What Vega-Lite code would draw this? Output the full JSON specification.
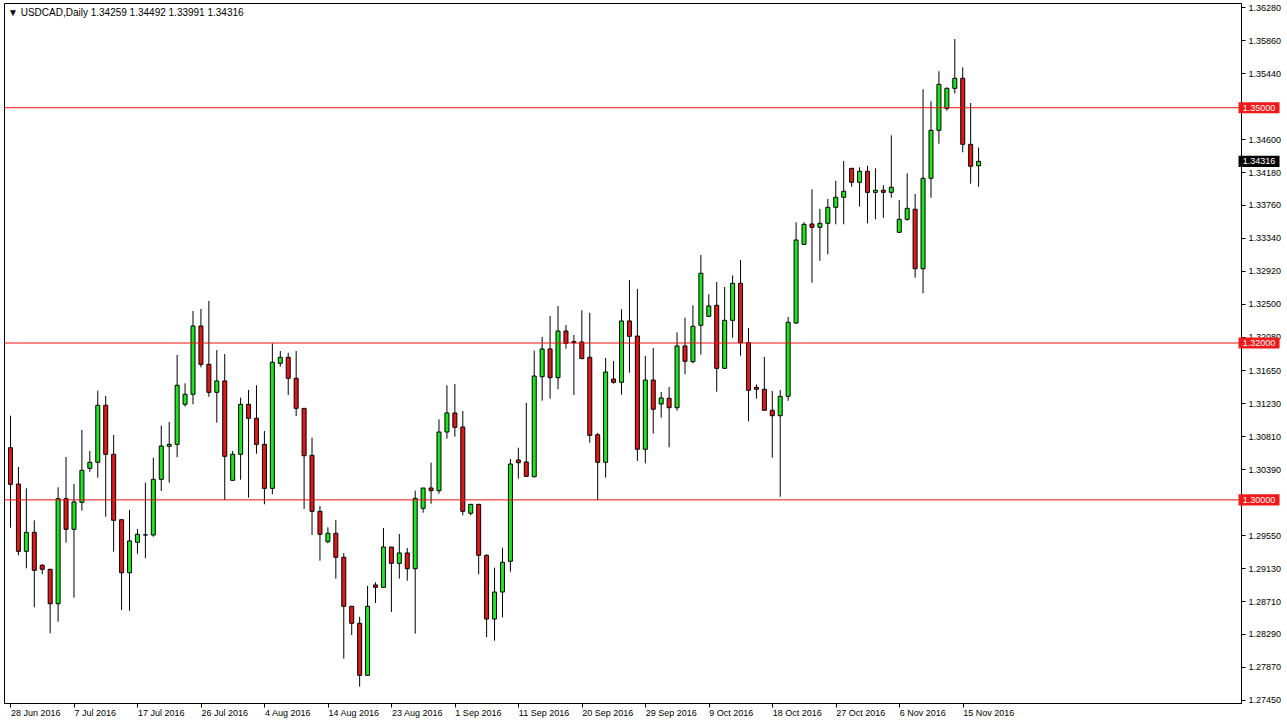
{
"$schema":"https://vega.github.io/schema/vega-lite/v6.json",
"width":1237,"height":700,
"autosize":{"type":"none"},
"padding":{"left":4,"top":3,"right":46,"bottom":23},
"background":"white",
"title":{"text":"▼ USDCAD,Daily  1.34259 1.34492 1.33991 1.34316","anchor":"start","frame":"group","font":"Liberation Sans","fontSize":10,"fontWeight":"normal","color":"black","baseline":"top","offset":-15,"dx":4},
"config":{"view":{"stroke":"black","strokeWidth":1},"axis":{"grid":false,"domainColor":"black","tickColor":"black","labelColor":"black","labelFont":"Liberation Sans","labelFontSize":9,"tickSize":4,"title":null,"labelOverlap":false,"labelFlush":false}},
"data":{"values":[
{"i":0,"d":"2016-06-28","o":1.30665,"h":1.31073,"l":1.29645,"c":1.30198},
{"i":1,"d":"2016-06-29","o":1.30202,"h":1.30419,"l":1.29293,"c":1.29344},
{"i":2,"d":"2016-06-30","o":1.29344,"h":1.30147,"l":1.29127,"c":1.29586},
{"i":3,"d":"2016-07-01","o":1.29586,"h":1.29739,"l":1.2863,"c":1.29102},
{"i":4,"d":"2016-07-03","o":1.29166,"h":1.29182,"l":1.29051,"c":1.29115},
{"i":5,"d":"2016-07-04","o":1.29115,"h":1.29115,"l":1.28299,"c":1.28676},
{"i":6,"d":"2016-07-05","o":1.28676,"h":1.3016,"l":1.28447,"c":1.30015},
{"i":7,"d":"2016-07-06","o":1.30015,"h":1.30547,"l":1.29454,"c":1.29625},
{"i":8,"d":"2016-07-07","o":1.29625,"h":1.30202,"l":1.28753,"c":1.29973},
{"i":9,"d":"2016-07-08","o":1.29969,"h":1.30891,"l":1.29862,"c":1.30377},
{"i":10,"d":"2016-07-10","o":1.30402,"h":1.30623,"l":1.30359,"c":1.30479},
{"i":11,"d":"2016-07-11","o":1.30479,"h":1.31392,"l":1.30283,"c":1.31206},
{"i":12,"d":"2016-07-12","o":1.31206,"h":1.31324,"l":1.29785,"c":1.30581},
{"i":13,"d":"2016-07-13","o":1.30581,"h":1.30827,"l":1.29339,"c":1.29739},
{"i":14,"d":"2016-07-14","o":1.29747,"h":1.29747,"l":1.28596,"c":1.29071},
{"i":15,"d":"2016-07-15","o":1.29071,"h":1.29871,"l":1.28587,"c":1.29476},
{"i":16,"d":"2016-07-17","o":1.29459,"h":1.29629,"l":1.29314,"c":1.29561},
{"i":17,"d":"2016-07-18","o":1.29552,"h":1.30219,"l":1.29255,"c":1.29554},
{"i":18,"d":"2016-07-19","o":1.29552,"h":1.30538,"l":1.2953,"c":1.30262},
{"i":19,"d":"2016-07-20","o":1.30262,"h":1.30946,"l":1.30113,"c":1.30687},
{"i":20,"d":"2016-07-21","o":1.30683,"h":1.30993,"l":1.30219,"c":1.30708},
{"i":21,"d":"2016-07-22","o":1.30708,"h":1.31847,"l":1.30543,"c":1.31461},
{"i":22,"d":"2016-07-24","o":1.31218,"h":1.31486,"l":1.31188,"c":1.31346},
{"i":23,"d":"2016-07-25","o":1.31346,"h":1.32408,"l":1.31218,"c":1.32217},
{"i":24,"d":"2016-07-26","o":1.32217,"h":1.32434,"l":1.3169,"c":1.31728},
{"i":25,"d":"2016-07-27","o":1.31728,"h":1.32536,"l":1.31315,"c":1.31371},
{"i":26,"d":"2016-07-28","o":1.31371,"h":1.31911,"l":1.30984,"c":1.31516},
{"i":27,"d":"2016-07-29","o":1.31516,"h":1.3186,"l":1.29998,"c":1.30555},
{"i":28,"d":"2016-07-31","o":1.30249,"h":1.30623,"l":1.30249,"c":1.30581},
{"i":29,"d":"2016-08-01","o":1.30581,"h":1.31303,"l":1.30257,"c":1.31218},
{"i":30,"d":"2016-08-02","o":1.31218,"h":1.31401,"l":1.30028,"c":1.3104},
{"i":31,"d":"2016-08-03","o":1.3104,"h":1.31461,"l":1.30589,"c":1.30708},
{"i":32,"d":"2016-08-04","o":1.30708,"h":1.30878,"l":1.29943,"c":1.30147},
{"i":33,"d":"2016-08-05","o":1.30147,"h":1.31996,"l":1.30071,"c":1.31754},
{"i":34,"d":"2016-08-07","o":1.31741,"h":1.31898,"l":1.31698,"c":1.31818},
{"i":35,"d":"2016-08-08","o":1.31818,"h":1.31876,"l":1.31337,"c":1.3155},
{"i":36,"d":"2016-08-09","o":1.3155,"h":1.31898,"l":1.31069,"c":1.31167},
{"i":37,"d":"2016-08-10","o":1.31167,"h":1.31167,"l":1.29884,"c":1.30563},
{"i":38,"d":"2016-08-11","o":1.30568,"h":1.30793,"l":1.29552,"c":1.29854},
{"i":39,"d":"2016-08-12","o":1.29854,"h":1.29922,"l":1.29224,"c":1.29561},
{"i":40,"d":"2016-08-14","o":1.29467,"h":1.2965,"l":1.29446,"c":1.29574},
{"i":41,"d":"2016-08-15","o":1.29574,"h":1.29743,"l":1.28995,"c":1.29268},
{"i":42,"d":"2016-08-16","o":1.29268,"h":1.29323,"l":1.27975,"c":1.28643},
{"i":43,"d":"2016-08-17","o":1.28643,"h":1.28643,"l":1.28277,"c":1.28426},
{"i":44,"d":"2016-08-18","o":1.28426,"h":1.2851,"l":1.27618,"c":1.27763},
{"i":45,"d":"2016-08-19","o":1.27763,"h":1.28902,"l":1.27754,"c":1.28643},
{"i":46,"d":"2016-08-21","o":1.28915,"h":1.28949,"l":1.28685,"c":1.28885},
{"i":47,"d":"2016-08-22","o":1.28885,"h":1.29641,"l":1.28885,"c":1.29399},
{"i":48,"d":"2016-08-23","o":1.29399,"h":1.29399,"l":1.2857,"c":1.29191},
{"i":49,"d":"2016-08-24","o":1.29191,"h":1.29565,"l":1.28995,"c":1.29323},
{"i":50,"d":"2016-08-25","o":1.29323,"h":1.29386,"l":1.28969,"c":1.29122},
{"i":51,"d":"2016-08-26","o":1.29122,"h":1.30117,"l":1.28294,"c":1.3002},
{"i":52,"d":"2016-08-28","o":1.29892,"h":1.30151,"l":1.29836,"c":1.30151},
{"i":53,"d":"2016-08-29","o":1.30151,"h":1.30474,"l":1.29951,"c":1.30117},
{"i":54,"d":"2016-08-30","o":1.30117,"h":1.31027,"l":1.30079,"c":1.30865},
{"i":55,"d":"2016-08-31","o":1.30865,"h":1.31461,"l":1.3078,"c":1.31108},
{"i":56,"d":"2016-09-01","o":1.31108,"h":1.31477,"l":1.30805,"c":1.30925},
{"i":57,"d":"2016-09-02","o":1.30929,"h":1.31133,"l":1.29803,"c":1.29854},
{"i":58,"d":"2016-09-04","o":1.29829,"h":1.29943,"l":1.29803,"c":1.29943},
{"i":59,"d":"2016-09-05","o":1.29943,"h":1.29943,"l":1.29051,"c":1.29293},
{"i":60,"d":"2016-09-06","o":1.29293,"h":1.29306,"l":1.28248,"c":1.28481},
{"i":61,"d":"2016-09-07","o":1.28481,"h":1.29135,"l":1.28204,"c":1.28825},
{"i":62,"d":"2016-09-08","o":1.28825,"h":1.2939,"l":1.28503,"c":1.29204},
{"i":63,"d":"2016-09-09","o":1.29217,"h":1.30521,"l":1.29084,"c":1.30457},
{"i":64,"d":"2016-09-11","o":1.30508,"h":1.30665,"l":1.3027,"c":1.30474},
{"i":65,"d":"2016-09-12","o":1.30483,"h":1.31235,"l":1.303,"c":1.303},
{"i":66,"d":"2016-09-13","o":1.30295,"h":1.31902,"l":1.30288,"c":1.31579},
{"i":67,"d":"2016-09-14","o":1.3157,"h":1.32077,"l":1.31264,"c":1.31924},
{"i":68,"d":"2016-09-15","o":1.31924,"h":1.32344,"l":1.3129,"c":1.31558},
{"i":69,"d":"2016-09-16","o":1.31558,"h":1.32472,"l":1.3141,"c":1.32153},
{"i":70,"d":"2016-09-18","o":1.32153,"h":1.3223,"l":1.31927,"c":1.31996},
{"i":71,"d":"2016-09-19","o":1.32017,"h":1.32102,"l":1.31337,"c":1.32004},
{"i":72,"d":"2016-09-20","o":1.32013,"h":1.32417,"l":1.318,"c":1.318},
{"i":73,"d":"2016-09-21","o":1.31818,"h":1.32386,"l":1.30729,"c":1.30823},
{"i":74,"d":"2016-09-22","o":1.30831,"h":1.30853,"l":1.29998,"c":1.30479},
{"i":75,"d":"2016-09-23","o":1.30479,"h":1.31809,"l":1.30283,"c":1.3163},
{"i":76,"d":"2016-09-25","o":1.31541,"h":1.31771,"l":1.31481,"c":1.31499},
{"i":77,"d":"2016-09-26","o":1.31499,"h":1.3243,"l":1.31341,"c":1.32281},
{"i":78,"d":"2016-09-27","o":1.32281,"h":1.32803,"l":1.31621,"c":1.32085},
{"i":79,"d":"2016-09-28","o":1.32089,"h":1.32689,"l":1.30496,"c":1.30645},
{"i":80,"d":"2016-09-29","o":1.30645,"h":1.31834,"l":1.30466,"c":1.31528},
{"i":81,"d":"2016-09-30","o":1.31528,"h":1.31936,"l":1.30844,"c":1.31155},
{"i":82,"d":"2016-10-02","o":1.31222,"h":1.31375,"l":1.31048,"c":1.31299},
{"i":83,"d":"2016-10-03","o":1.31295,"h":1.31439,"l":1.3067,"c":1.31175},
{"i":84,"d":"2016-10-04","o":1.31175,"h":1.32136,"l":1.31137,"c":1.31962},
{"i":85,"d":"2016-10-05","o":1.31962,"h":1.32323,"l":1.31601,"c":1.31767},
{"i":86,"d":"2016-10-06","o":1.31762,"h":1.32481,"l":1.31741,"c":1.32213},
{"i":87,"d":"2016-10-07","o":1.32226,"h":1.33122,"l":1.31851,"c":1.32889},
{"i":88,"d":"2016-10-09","o":1.3234,"h":1.32621,"l":1.3234,"c":1.32472},
{"i":89,"d":"2016-10-10","o":1.32481,"h":1.32778,"l":1.31379,"c":1.31677},
{"i":90,"d":"2016-10-11","o":1.31677,"h":1.32714,"l":1.31677,"c":1.32289},
{"i":91,"d":"2016-10-12","o":1.32289,"h":1.32863,"l":1.32068,"c":1.32761},
{"i":92,"d":"2016-10-13","o":1.32761,"h":1.33058,"l":1.31838,"c":1.32004},
{"i":93,"d":"2016-10-14","o":1.32004,"h":1.32191,"l":1.31002,"c":1.31397},
{"i":94,"d":"2016-10-16","o":1.31435,"h":1.31473,"l":1.3129,"c":1.3141},
{"i":95,"d":"2016-10-17","o":1.3141,"h":1.31822,"l":1.31142,"c":1.31142},
{"i":96,"d":"2016-10-18","o":1.31142,"h":1.31388,"l":1.30538,"c":1.31073},
{"i":97,"d":"2016-10-19","o":1.31073,"h":1.31401,"l":1.3004,"c":1.3132},
{"i":98,"d":"2016-10-20","o":1.3132,"h":1.32332,"l":1.31264,"c":1.32264},
{"i":99,"d":"2016-10-21","o":1.32255,"h":1.33539,"l":1.32246,"c":1.33313},
{"i":100,"d":"2016-10-23","o":1.33258,"h":1.33539,"l":1.33258,"c":1.33513},
{"i":101,"d":"2016-10-24","o":1.33517,"h":1.3396,"l":1.32769,"c":1.33475},
{"i":102,"d":"2016-10-25","o":1.33475,"h":1.33709,"l":1.33049,"c":1.33526},
{"i":103,"d":"2016-10-26","o":1.33526,"h":1.33836,"l":1.33131,"c":1.3373},
{"i":104,"d":"2016-10-27","o":1.3373,"h":1.34069,"l":1.33513,"c":1.33858},
{"i":105,"d":"2016-10-28","o":1.33858,"h":1.34321,"l":1.33513,"c":1.33934},
{"i":106,"d":"2016-10-30","o":1.34227,"h":1.34227,"l":1.33993,"c":1.34049},
{"i":107,"d":"2016-10-31","o":1.34049,"h":1.3424,"l":1.33738,"c":1.34189},
{"i":108,"d":"2016-11-01","o":1.34189,"h":1.34261,"l":1.33526,"c":1.33921},
{"i":109,"d":"2016-11-02","o":1.33921,"h":1.34227,"l":1.33577,"c":1.33947},
{"i":110,"d":"2016-11-03","o":1.33947,"h":1.34011,"l":1.33598,"c":1.33921},
{"i":111,"d":"2016-11-04","o":1.33921,"h":1.34648,"l":1.33853,"c":1.33985},
{"i":112,"d":"2016-11-06","o":1.33411,"h":1.33823,"l":1.33411,"c":1.33577},
{"i":113,"d":"2016-11-07","o":1.33577,"h":1.34164,"l":1.33559,"c":1.33717},
{"i":114,"d":"2016-11-08","o":1.33705,"h":1.339,"l":1.32833,"c":1.32947},
{"i":115,"d":"2016-11-09","o":1.32947,"h":1.35235,"l":1.32634,"c":1.341},
{"i":116,"d":"2016-11-10","o":1.341,"h":1.35082,"l":1.33853,"c":1.34712},
{"i":117,"d":"2016-11-11","o":1.34712,"h":1.35464,"l":1.34541,"c":1.35298},
{"i":118,"d":"2016-11-13","o":1.34992,"h":1.3526,"l":1.34962,"c":1.35247},
{"i":119,"d":"2016-11-14","o":1.35247,"h":1.35876,"l":1.35184,"c":1.35375},
{"i":120,"d":"2016-11-15","o":1.35375,"h":1.35515,"l":1.34431,"c":1.34533},
{"i":121,"d":"2016-11-16","o":1.34533,"h":1.3506,"l":1.34031,"c":1.34253},
{"i":122,"d":"2016-11-17","o":1.34259,"h":1.34492,"l":1.33991,"c":1.34316}
]},
"layer":[
{"mark":{"type":"rule","color":"black","strokeWidth":1,"clip":true},
 "encoding":{
  "x":{"field":"i","type":"quantitative","scale":{"domain":[-0.1875,154.4375],"nice":false,"zero":false},
   "axis":{"orient":"bottom","values":[0,8,16,24,32,40,48,56,64,72,80,88,96,104,112,120],"tickCount":100,"labelExpr":"['28 Jun 2016','7 Jul 2016','17 Jul 2016','26 Jul 2016','4 Aug 2016','14 Aug 2016','23 Aug 2016','1 Sep 2016','11 Sep 2016','20 Sep 2016','29 Sep 2016','9 Oct 2016','18 Oct 2016','27 Oct 2016','6 Nov 2016','15 Nov 2016'][round(datum.value/8)]","labelAlign":"left","labelBaseline":"top","labelPadding":1,"labelFlush":false,"labelOverlap":false,"title":null}},
  "y":{"field":"l","type":"quantitative","scale":{"domain":[1.2741,1.36335],"nice":false,"zero":false},
   "axis":{"orient":"right","values":[1.2745,1.2787,1.2829,1.2871,1.2913,1.2955,1.3039,1.3081,1.3123,1.3165,1.3208,1.325,1.3292,1.3334,1.3376,1.3418,1.346,1.3544,1.3586,1.3628],"tickCount":100,"format":".5f","labelPadding":3,"labelBaseline":"middle","labelOverlap":false,"labelFlush":false,"labelBound":false,"title":null}},
  "y2":{"field":"h"}}},
{"mark":{"type":"bar","width":4,"stroke":"black","strokeWidth":1,"clip":true},
 "encoding":{
  "x":{"field":"i","type":"quantitative","title":null},
  "y":{"field":"o","type":"quantitative","title":null},
  "y2":{"field":"c"},
  "fill":{"condition":{"test":"datum.c >= datum.o","value":"#1ee61e"},"value":"#e01818"}}},
{"data":{"values":[{"level":1.35},{"level":1.32},{"level":1.3}]},
 "mark":{"type":"rule","color":"#ea1010","strokeWidth":1},
 "encoding":{"y":{"field":"level","type":"quantitative","title":null}}},
{"data":{"values":[{"level":1.35},{"level":1.32},{"level":1.3}]},
 "mark":{"type":"point","shape":"M-1,-0.27L1,-0.27L1,0.27L-1,0.27Z","size":1681,"filled":true,"opacity":1,"color":"#f01818","strokeWidth":0},
 "encoding":{"x":{"datum":157.34,"type":"quantitative"},"y":{"field":"level","type":"quantitative","title":null}}},
{"data":{"values":[{"level":1.35},{"level":1.32},{"level":1.3}]},
 "mark":{"type":"text","color":"white","font":"Liberation Sans","fontSize":9,"align":"center","baseline":"middle"},
 "encoding":{"x":{"datum":157.34,"type":"quantitative"},"y":{"field":"level","type":"quantitative","title":null},"text":{"field":"level","type":"quantitative","format":".5f"}}},
{"transform":[{"filter":"datum.i == 122"}],
 "mark":{"type":"point","shape":"M-1,-0.27L1,-0.27L1,0.27L-1,0.27Z","size":1681,"filled":true,"opacity":1,"color":"black","strokeWidth":0},
 "encoding":{"x":{"datum":157.34,"type":"quantitative"},"y":{"field":"c","type":"quantitative","title":null}}},
{"transform":[{"filter":"datum.i == 122"}],
 "mark":{"type":"text","color":"white","font":"Liberation Sans","fontSize":9,"align":"center","baseline":"middle"},
 "encoding":{"x":{"datum":157.34,"type":"quantitative"},"y":{"field":"c","type":"quantitative","title":null},"text":{"field":"c","type":"quantitative","format":".5f"}}}
]
}
